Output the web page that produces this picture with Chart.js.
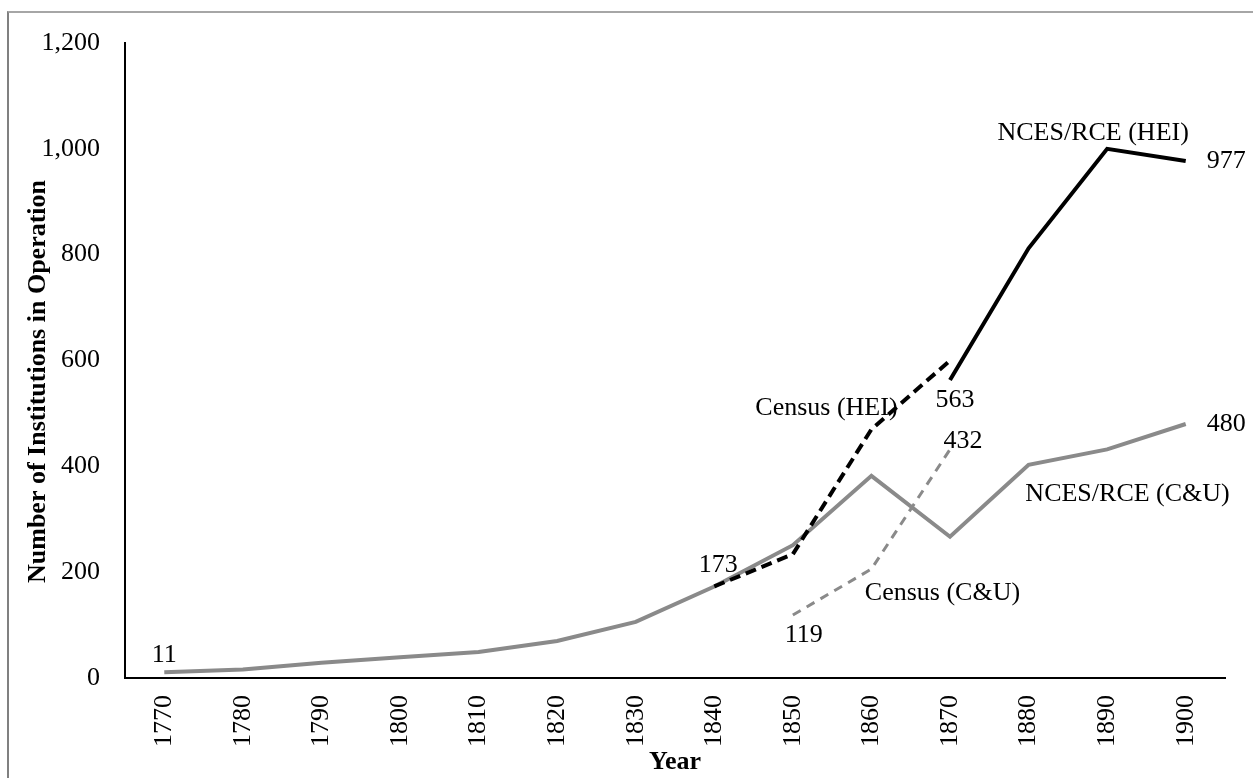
<!DOCTYPE html>
<html>
<head>
<meta charset="utf-8">
<script src="https://cdn.jsdelivr.net/npm/chart.js@4.4.1/dist/chart.umd.min.js"></script>
<style>
  html, body { margin: 0; padding: 0; background: #fff; overflow: hidden; }
  #frame {
    position: absolute; left: 7px; top: 11px; width: 1300px; height: 800px;
    border-left: 2px solid #808080; border-top: 2px solid #a6a6a6;
  }
  #wrap { position: absolute; left: 0; top: 0; width: 1253px; height: 778px; }
</style>
</head>
<body>
<div id="frame"></div>
<div id="wrap"><canvas id="chart"></canvas></div>
<script>
// data
const years = ['1770', '1780', '1790', '1800', '1810', '1820', '1830', '1840', '1850', '1860', '1870', '1880', '1890', '1900'];
const ncesCU = [11, 16, 29, 39, 49, 70, 106, 173, 251, 382, 267, 403, 432, 480];
const ncesHEI = [null, null, null, null, null, null, null, null, null, null, 563, 812, 1000, 977];
const censusHEI = [null, null, null, null, null, null, null, 173, 234, 470, 600, null, null, null];
const censusCU = [null, null, null, null, null, null, null, null, 119, 206, 432, null, null, null];
const yTicks = [0, 200, 400, 600, 800, 1000, 1200];
const seriesNames = ['Census (HEI)', 'NCES/RCE (HEI)', 'Census (C&U)', 'NCES/RCE (C&U)'];
const yTitle = 'Number of Institutions in Operation';

const FONT = "'Liberation Serif', 'Times New Roman', serif";

// text labels next to points: dataset, point index, text, offset, alignment
const notes = [
  { ds: 3, i: 0, text: '11', dx: 0, dy: -17, align: 'center' },
  { ds: 3, i: 7, text: '173', dx: 4, dy: -21, align: 'center' },
  { ds: 2, i: 8, text: '119', dx: 11, dy: 20, align: 'center' },
  { ds: 1, i: 10, text: '563', dx: 5, dy: 20, align: 'center' },
  { ds: 2, i: 10, text: '432', dx: 13, dy: -8, align: 'center' },
  { ds: 3, i: 13, text: '480', dx: 21, dy: 0, align: 'left' },
  { ds: 1, i: 13, text: '977', dx: 21, dy: 0, align: 'left' },
  { ds: 1, i: 12, text: seriesNames[1], dx: -14, dy: -16, align: 'center' },
  { ds: 0, i: 9, text: seriesNames[0], dx: -45, dy: -21, align: 'center' },
  { ds: 2, i: 9, text: seriesNames[2], dx: 71, dy: 24, align: 'center' },
  { ds: 3, i: 11, text: seriesNames[3], dx: 99, dy: 29, align: 'center' }
];

const pointNotes = {
  id: 'pointNotes',
  afterDatasetsDraw(chart) {
    const ctx = chart.ctx;
    ctx.save();
    ctx.font = '26px ' + FONT;
    ctx.fillStyle = '#000';
    ctx.textBaseline = 'middle';
    notes.forEach(n => {
      const pt = chart.getDatasetMeta(n.ds).data[n.i];
      if (!pt) return;
      ctx.textAlign = n.align;
      ctx.fillText(n.text, pt.x + n.dx, pt.y + n.dy);
    });
    // y axis title, a bit below the plot's middle as in the original
    const area = chart.chartArea;
    ctx.font = 'bold 26px ' + FONT;
    ctx.textAlign = 'center';
    ctx.translate(38, (area.top + area.bottom) / 2 + 21);
    ctx.rotate(-Math.PI / 2);
    ctx.fillText(yTitle, 0, 0);
    ctx.restore();
  }
};

const ctx = document.getElementById('chart').getContext('2d');
new Chart(ctx, {
  type: 'line',
  data: {
    labels: years,
    datasets: [
      { label: seriesNames[0], data: censusHEI, borderColor: '#000', borderWidth: 4, borderDash: [11, 6] },
      { label: seriesNames[1], data: ncesHEI, borderColor: '#000', borderWidth: 4 },
      { label: seriesNames[2], data: censusCU, borderColor: '#8a8a8a', borderWidth: 3, borderDash: [9, 7] },
      { label: seriesNames[3], data: ncesCU, borderColor: '#8a8a8a', borderWidth: 4 }
    ]
  },
  options: {
    responsive: true,
    maintainAspectRatio: false,
    animation: false,
    spanGaps: false,
    elements: { point: { radius: 0, hoverRadius: 0 }, line: { tension: 0, fill: false } },
    layout: { padding: { top: 43, right: 28, bottom: 0, left: 0 } },
    plugins: { legend: { display: false }, tooltip: { enabled: false } },
    scales: {
      x: {
        type: 'category',
        offset: true,
        grid: { display: false, drawTicks: false },
        border: { display: true, color: '#000', width: 2 },
        ticks: {
          font: { family: FONT, size: 26 }, color: '#000',
          minRotation: 90, maxRotation: 90, padding: 17, autoSkip: false
        },
        title: {
          display: true, text: 'Year', color: '#000',
          font: { family: FONT, size: 26, weight: 'bold' },
          padding: { top: 0, bottom: 0 }
        },
        afterFit(scale) { scale.height = 100; }
      },
      y: {
        min: 0, max: 1200,
        grid: { display: false, drawTicks: false },
        border: { display: true, color: '#000', width: 2 },
        afterBuildTicks(scale) { scale.ticks = yTicks.map(v => ({ value: v })); },
        ticks: {
          font: { family: FONT, size: 26 }, color: '#000', padding: 25,
          callback: v => v.toLocaleString('en-US')
        },
        title: { display: false },
        afterFit(scale) { scale.width = 125; }
      }
    }
  },
  plugins: [pointNotes]
});
</script>
</body>
</html>
